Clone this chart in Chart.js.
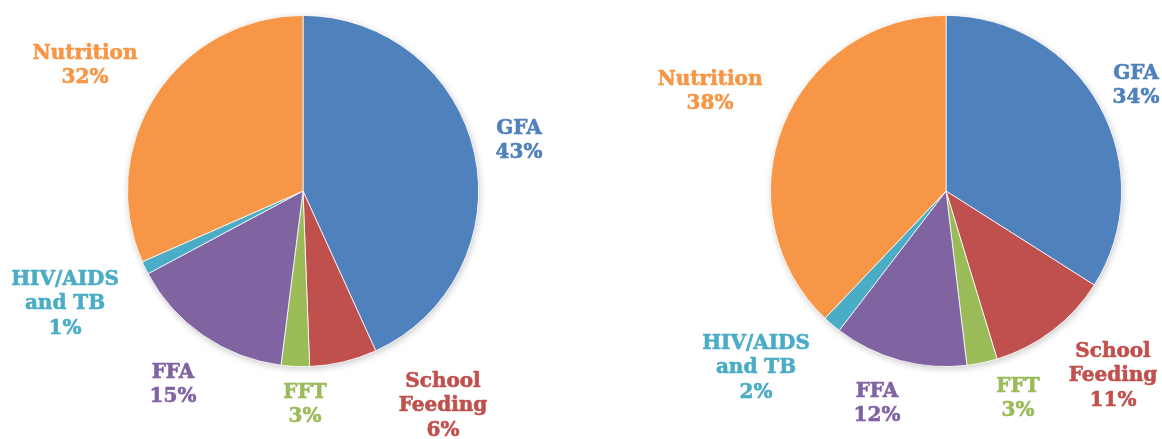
<!DOCTYPE html>
<html>
<head>
<meta charset="utf-8">
<script src="https://cdn.jsdelivr.net/npm/chart.js@4/dist/chart.umd.min.js"></script>
<style>
  html, body { margin: 0; padding: 0; background: #ffffff; }
  #wrap { position: relative; width: 1162px; height: 439px; }
  .box { position: absolute; top: 0; width: 581px; height: 439px; }
  #boxL { left: 0; }
  #boxR { left: 581px; }
</style>
</head>
<body>
<div id="wrap">
  <div class="box" id="boxL"><canvas id="chartL"></canvas></div>
  <div class="box" id="boxR"><canvas id="chartR"></canvas></div>
</div>
<script>
// ---- Data ----
const categories = ["GFA", "School Feeding", "FFT", "FFA", "HIV/AIDS and TB", "Nutrition"];
const labelLines = [["GFA"], ["School", "Feeding"], ["FFT"], ["FFA"], ["HIV/AIDS", "and TB"], ["Nutrition"]];
const leftValues = [43.2, 6.2, 2.6, 15.2, 1.2, 31.6];
const rightValues = [34.0, 11.3, 2.8, 12.3, 1.7, 37.9];
const sliceColors = ["#4F81BD", "#C0504D", "#9BBB59", "#8064A2", "#4BACC6", "#F79646"];

// ---- Layout (label block centres relative to pie centre) ----
const leftLabelOffsets = [[216, -50], [140, 215], [2, 214], [-130, 194], [-238, 113], [-218, -125]];
const rightLabelOffsets = [[190, -105], [167, 185], [72, 208], [-69, 213], [-190, 177], [-236, -99]];

const FONT = "bold 20px 'DejaVu Serif', Georgia, serif";
const LINE_H = 24.5;

const shadowPlugin = {
  id: 'pieShadow',
  beforeDatasetsDraw(chart) {
    const arc = chart.getDatasetMeta(0).data[0];
    if (!arc) return;
    const ctx = chart.ctx;
    ctx.save();
    ctx.beginPath();
    ctx.arc(arc.x, arc.y, arc.outerRadius, 0, Math.PI * 2);
    ctx.shadowColor = 'rgba(0,0,0,0.22)';
    ctx.shadowBlur = 7;
    ctx.shadowOffsetX = 1;
    ctx.shadowOffsetY = 2;
    ctx.fillStyle = '#ffffff';
    ctx.fill();
    ctx.restore();
  }
};

const labelPlugin = {
  id: 'outsideLabels',
  afterDatasetsDraw(chart, args, opts) {
    const meta = chart.getDatasetMeta(0);
    const ds = chart.data.datasets[0];
    const total = ds.data.reduce((a, b) => a + b, 0);
    const ctx = chart.ctx;
    ctx.save();
    ctx.font = FONT;
    ctx.textAlign = 'center';
    ctx.textBaseline = 'middle';
    ctx.lineWidth = 0.6;
    ctx.lineJoin = 'round';
    meta.data.forEach((arc, i) => {
      const lines = labelLines[i].concat([Math.round(ds.data[i] / total * 100) + '%']);
      const off = opts.offsets[i];
      const cx = arc.x + off[0];
      const cy = arc.y + off[1];
      const startY = cy - (lines.length - 1) * LINE_H / 2;
      ctx.fillStyle = sliceColors[i];
      ctx.strokeStyle = sliceColors[i];
      lines.forEach((t, k) => {
        ctx.fillText(t, cx, startY + k * LINE_H);
        ctx.strokeText(t, cx, startY + k * LINE_H);
      });
    });
    ctx.restore();
  }
};

function makePie(canvasId, values, offsets, padding) {
  return new Chart(document.getElementById(canvasId), {
    type: 'pie',
    data: {
      labels: categories,
      datasets: [{
        data: values,
        backgroundColor: sliceColors,
        borderColor: '#ffffff',
        borderWidth: 0.8
      }]
    },
    options: {
      responsive: true,
      maintainAspectRatio: false,
      animation: false,
      layout: { padding: padding },
      plugins: {
        legend: { display: false },
        tooltip: { enabled: false },
        outsideLabels: { offsets: offsets }
      }
    },
    plugins: [shadowPlugin, labelPlugin]
  });
}

makePie('chartL', leftValues, leftLabelOffsets, { left: 127, right: 102, top: 15, bottom: 72 });
makePie('chartR', rightValues, rightLabelOffsets, { left: 189, right: 40, top: 15, bottom: 72 });
</script>
</body>
</html>
